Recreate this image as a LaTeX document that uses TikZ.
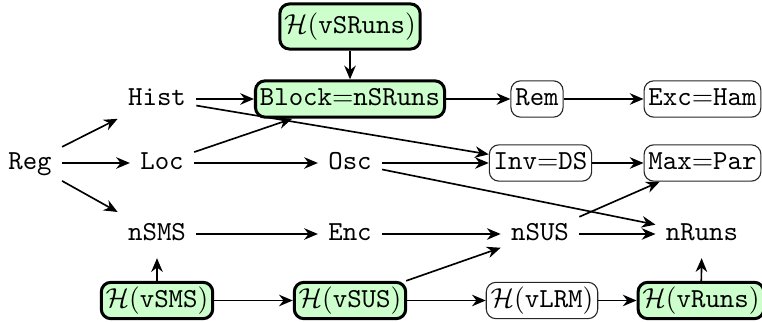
\documentclass[tikz,border=0pt]{standalone}
\usetikzlibrary{arrows.meta}
\begin{document}
\begin{tikzpicture}[x=0.3636pt,y=-0.3636pt,
  every node/.style={font=\ttfamily, text height=7.5pt, text depth=2.5pt},
  plain/.style={inner sep=3.6pt},
  gbox/.style={draw, line width=1.1pt, rounded corners=3.5pt, fill=green!20, inner sep=1.6pt},
  wbox/.style={draw=black!85, line width=0.4pt, rounded corners=3.5pt, inner sep=1.6pt},
  arr/.style={-{Stealth[length=5pt,width=4.2pt]}, line width=0.6pt}
]
\useasboundingbox (0,0) rectangle (762,322);
% row 1
\node[gbox, inner ysep=3.2pt] (hsr) at (350,26.5) {$\mathcal{H}($vSRuns$)$};
% row 2
\node[plain] (hist) at (157,99) {Hist};
\node[gbox] (block) at (350,99) {Block$=$nSRuns};
\node[wbox] (rem) at (537,99) {Rem};
\node[wbox] (exc) at (702.5,99) {Exc$=$Ham};
% row 3
\node[plain] (reg) at (30,163) {Reg};
\node[plain] (loc) at (162,163) {Loc};
\node[plain] (osc) at (350,163) {Osc};
\node[wbox] (inv) at (540.5,163) {Inv$=$DS};
\node[wbox] (max) at (702.5,163) {Max$=$Par};
% row 4
\node[plain] (nsms) at (157,234) {nSMS};
\node[plain] (enc) at (350,234) {Enc};
\node[plain] (nsus) at (540,234) {nSUS};
\node[plain] (nruns) at (702,234) {nRuns};
% row 5
\node[gbox] (hsms) at (157,300.5) {$\mathcal{H}($vSMS$)$};
\node[gbox] (hsus) at (350,300.5) {$\mathcal{H}($vSUS$)$};
\node[wbox] (hlrm) at (542,300.5) {$\mathcal{H}($vLRM$)$};
\node[gbox] (hruns) at (701,300.5) {$\mathcal{H}($vRuns$)$};
% edges
\draw[arr] (hsr) -- (block);
\draw[arr] (hist) -- (block);
\draw[arr] (block) -- (rem);
\draw[arr] (rem) -- (exc);
\draw[arr] (reg) -- (hist);
\draw[arr] (reg) -- (loc);
\draw[arr] (reg) -- (nsms);
\draw[arr] (loc) -- (block);
\draw[arr] (loc) -- (osc);
\draw[arr] (hist) -- (inv);
\draw[arr] (osc) -- (inv);
\draw[arr] (osc) -- (nruns);
\draw[arr] (inv) -- (max);
\draw[arr] (nsus) -- (max);
\draw[arr] (nsms) -- (enc);
\draw[arr] (enc) -- (nsus);
\draw[arr] (nsus) -- (nruns);
\draw[arr] (hsms) -- (nsms);
\draw[arr] (hsms) -- (hsus);
\draw[arr] (hsus) -- (nsus);
\draw[arr] (hsus) -- (hlrm);
\draw[arr] (hlrm) -- (hruns);
\draw[arr] (hruns) -- (nruns);
\end{tikzpicture}
\end{document}
